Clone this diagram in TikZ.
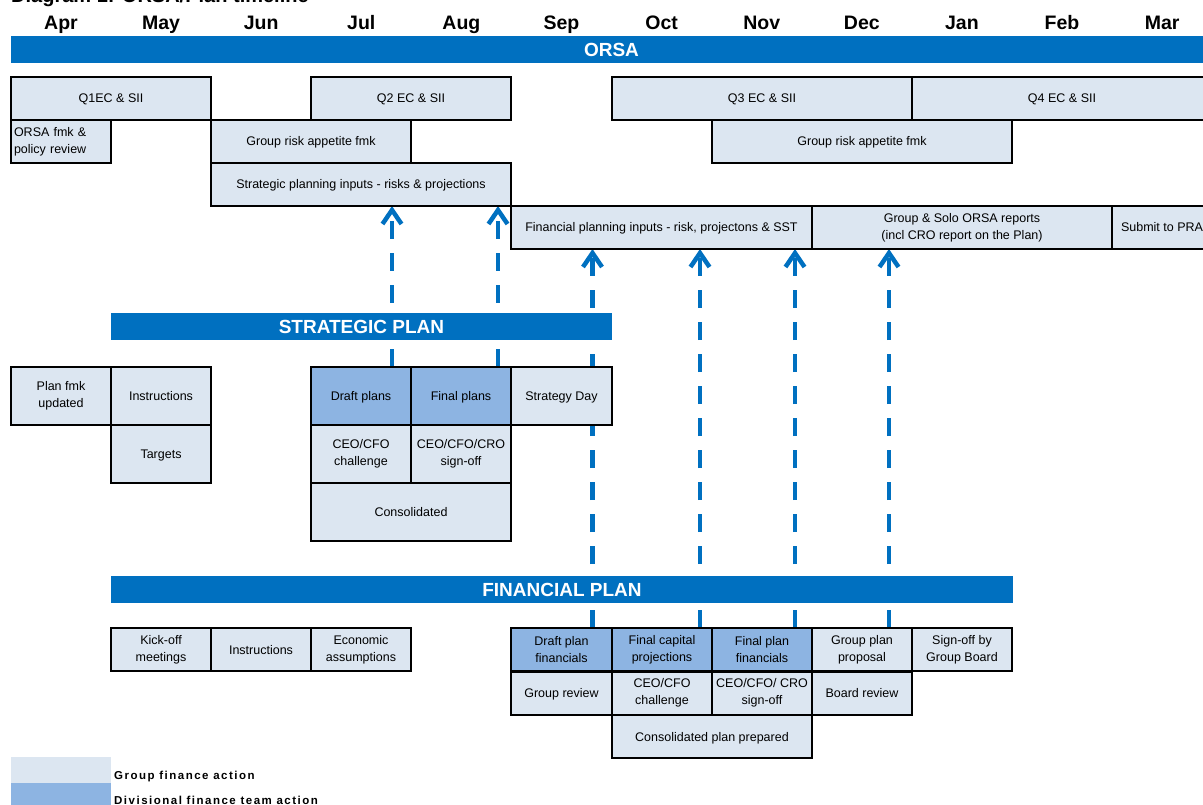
\documentclass[tikz,border=0pt]{standalone}
\usepackage{fontspec}
\setmainfont{Liberation Sans}
\usepackage{tikz}
\usetikzlibrary{calc,arrows.meta,backgrounds,positioning}
\definecolor{grpfill}{HTML}{DCE6F1}
\definecolor{divfill}{HTML}{8DB4E2}
\definecolor{barblue}{HTML}{0070C0}

\begin{document}
\begin{tikzpicture}
		[x=1pt,y=-1pt,
		cell/.style={shape=rectangle,draw,line width=2pt,fill=grpfill,inner sep=1pt,outer sep=0pt,
			align=center,minimum width=100pt,minimum height=43pt,font=\fontsize{12.5}{17}\selectfont,
			text height=9pt,text depth=0pt},
		two/.style={text height={},text depth={}},
		divcell/.style={cell,fill=divfill},
		tall/.style={minimum height=58pt},
		bar/.style={fill=barblue,text=white,inner sep=0pt,outer sep=0pt,minimum height=27pt,
			font=\bfseries\fontsize{19}{22}\selectfont},
		month/.style={font=\bfseries\fontsize{19.5}{22}\selectfont,inner sep=0pt,anchor=base},
		key/.style={font={\bfseries\fontsize{11.5}{13}\selectfont\addfontfeatures{LetterSpace=13}},
			inner sep=0pt,anchor=base west},
		flow/.style={draw=barblue,line width=4.5pt,dash pattern=on 18pt off 14pt,
			-{Straight Barb[length=14pt,width=19pt]}}]
		\useasboundingbox (0,0) rectangle (1203,805);
		\node[font=\bfseries\fontsize{20}{24}\selectfont,inner sep=0pt,anchor=base west] (ttl) at (11,3) {Diagram 1: ORSA/Plan timeline};
		\foreach \m [count=\i from 0] in {Apr,May,Jun,Jul,Aug,Sep,Oct,Nov,Dec,Jan,Feb,Mar}
		{
			\node[month] (mon\i) at (61+100.1*\i,30) {\m};
		}
		\node[bar,minimum width=1201pt] (orsa) at (611.5,49.5) {ORSA};
		\node[cell,minimum width=200pt] (q1) at (111,98.5) {Q1EC \& SII};
		\node[cell,minimum width=200pt] (q2) at (411,98.5) {Q2 EC \& SII};
		\node[cell,minimum width=300pt] (q3) at (762,98.5) {Q3 EC \& SII};
		\node[cell,minimum width=300pt] (q4) at (1062,98.5) {Q4 EC \& SII};
		\node[cell,two,align=left,text width=94pt] (ofmk) at (61,141.5) {ORSA fmk \&\\policy review};
		\node[cell,minimum width=200pt] (gra) at (311,141.5) {Group risk appetite fmk};
		\node[cell,minimum width=300pt] (grb) at (862,141.5) {Group risk appetite fmk};
		\node[cell,minimum width=300pt] (spi) at (361,184.5) {Strategic planning inputs - risks \& projections};
		\node[cell,minimum width=301pt] (fpi) at (661.5,227.5) {Financial planning inputs - risk, projectons \& SST};
		\node[cell,two,minimum width=300pt] (orep) at (962,227.5) {Group \& Solo ORSA reports\\(incl CRO report on the Plan)};
		\node[cell] (pra) at (1162,227.5) {Submit to PRA};
		
		\node[bar,minimum width=501pt] (strat) at (361.5,326.5) {STRATEGIC PLAN};
		\node[cell,two,tall] (pfmk) at (61,396) {Plan fmk\\updated};
		\node[cell,tall] (sinstr) at (161,396) {Instructions};
		\node[cell,tall] (targ) at (161,454) {Targets};
		\node[divcell,tall] (draft) at (361,396) {Draft plans};
		\node[divcell,tall] (final) at (461,396) {Final plans};
		\node[cell,tall,minimum width=101pt] (sday) at (561.5,396) {Strategy Day};
		\node[cell,two,tall] (schal) at (361,454) {CEO/CFO\\challenge};
		\node[cell,two,tall] (ssign) at (461,454) {CEO/CFO/CRO\\sign-off};
		\node[cell,tall,minimum width=200pt] (scons) at (411,512) {Consolidated};
		
		\node[bar,minimum width=902pt] (fin) at (562,589.5) {FINANCIAL PLAN};
		\node[cell,two] (kick) at (161,649.5) {Kick-off\\meetings};
		\node[cell] (finstr) at (261,649.5) {Instructions};
		\node[cell,two] (econ) at (361,649.5) {Economic\\assumptions};
		\node[divcell,two,minimum width=101pt] (fpdraft) at (561.5,649.5) {Draft plan\\financials};
		\node[divcell,two] (fpcap) at (662,649.5) {Final capital\\projections};
		\node[divcell,two] (fpfinal) at (762,649.5) {Final plan\\financials};
		\node[cell,two] (fpgrp) at (862,649.5) {Group plan\\proposal};
		\node[cell,two] (fpboard) at (962,649.5) {Sign-off by\\Group Board};
		\node[cell,minimum width=101pt] (frev) at (561.5,693) {Group review};
		\node[cell,two] (fchal) at (662,693) {CEO/CFO\\challenge};
		\node[cell,two] (fsign) at (762,693) {CEO/CFO/ CRO\\sign-off};
		\node[cell] (brev) at (862,693) {Board review};
		\node[cell,minimum width=200pt] (fcons) at (712,736.5) {Consolidated plan prepared};
		
		\node[fill=grpfill,minimum width=100pt,minimum height=26pt,inner sep=0pt,outer sep=0pt] (keyg) at (61,770) {};
		\node[fill=divfill,minimum width=100pt,minimum height=26pt,inner sep=0pt,outer sep=0pt] (keyd) at (61,796) {};
		\node[key] (keygt) at (114,779) {Group finance action};
		\node[key] (keydt) at (114,804) {Divisional finance team action};
		
		\begin{pgfonlayer}{background}
		\foreach \src/\dst/\dx in {draft/spi/31,final/spi/37,fpdraft/fpi/31,fpcap/fpi/38,fpfinal/fpi/33,fpgrp/orep/27}
		{
			\draw[flow] let \p1=([xshift=\dx pt]\src.north), \p2=(\dst.south) in (\x1,\y1) -- (\x1,\y2);
		}
		\end{pgfonlayer}
		\end{tikzpicture}
\end{document}
